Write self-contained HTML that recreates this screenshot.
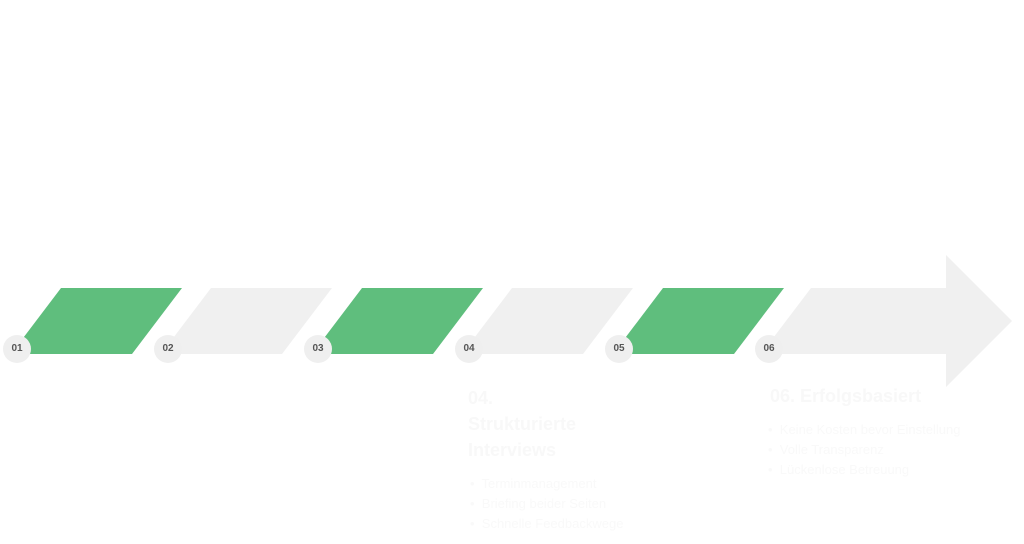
<!DOCTYPE html>
<html><head><meta charset="utf-8"><style>
body{margin:0;width:1024px;height:544px;background:#fff;overflow:hidden;position:relative;font-family:"Liberation Sans",sans-serif}
svg{position:absolute;left:0;top:0}
.c{position:absolute;width:28px;height:28px;border-radius:50%;background:#efefef;color:#555;font-size:10px;font-weight:bold;text-align:center;line-height:28px}
.t{position:absolute;color:#f8f8f8;font-weight:bold;font-size:18px;line-height:26px}
.b{position:absolute;color:#f9f9f9;font-size:13px;line-height:20px;white-space:nowrap}
</style></head><body>
<svg width="1024" height="544">
<polygon points="61,288 182,288 132,354 11,354" fill="#5fbe7d"/>
<polygon points="211,288 332,288 282,354 161,354" fill="#f0f0f0"/>
<polygon points="362,288 483,288 433,354 312,354" fill="#5fbe7d"/>
<polygon points="512,288 633,288 583,354 462,354" fill="#f0f0f0"/>
<polygon points="663,288 784,288 734,354 613,354" fill="#5fbe7d"/>
<polygon points="811,288 946,288 946,255 1012,321 946,387 946,354 761,354" fill="#f0f0f0"/>
</svg>
<div class="c" style="left:3px;top:335px">01</div>
<div class="c" style="left:154px;top:335px">02</div>
<div class="c" style="left:304px;top:335px">03</div>
<div class="c" style="left:455px;top:335px">04</div>
<div class="c" style="left:605px;top:335px">05</div>
<div class="c" style="left:755px;top:335px">06</div>
<div class="t" style="left:468px;top:385px">04.<br>Strukturierte<br>Interviews</div>
<div class="b" style="left:470px;top:474px">•&nbsp; Terminmanagement<br>•&nbsp; Briefing beider Seiten<br>•&nbsp; Schnelle Feedbackwege</div>
<div class="t" style="left:770px;top:383px">06. Erfolgsbasiert</div>
<div class="b" style="left:768px;top:420px">•&nbsp; Keine Kosten bevor Einstellung<br>•&nbsp; Volle Transparenz<br>•&nbsp; Lückenlose Betreuung</div>
</body></html>
